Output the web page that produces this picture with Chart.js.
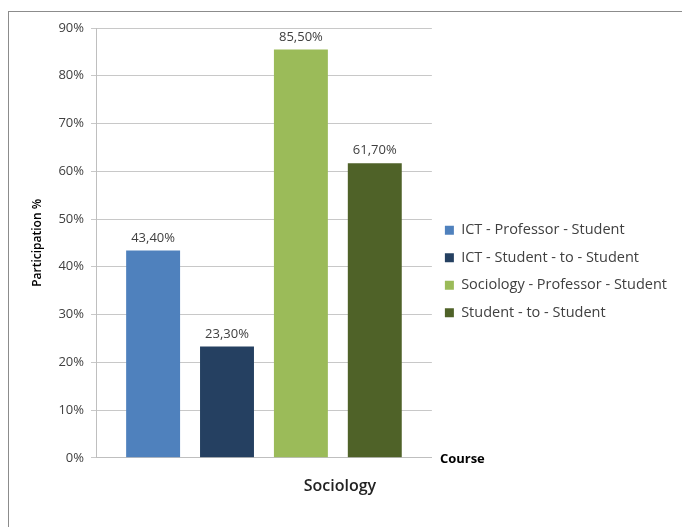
<!DOCTYPE html>
<html>
<head>
<meta charset="utf-8">
<script src="https://cdn.jsdelivr.net/npm/chart.js@4.4.1/dist/chart.umd.min.js"></script>
<style>
  html, body { margin: 0; padding: 0; background: #fff; }
  #wrap { position: relative; width: 682px; height: 527px; }
  #frame { position: absolute; left: 8px; top: 11px; width: 674px; height: 516px;
           border-top: 1px solid #8c8c8c; border-left: 1px solid #8c8c8c; box-sizing: border-box; pointer-events: none; }
  canvas { position: absolute; left: 0; top: 0; }
</style>
</head>
<body>
<div id="wrap">
  <canvas id="c" width="682" height="527"></canvas>
  <div id="frame"></div>
</div>
<script>
const categories = ['Sociology'];
const seriesNames = [
  'ICT - Professor - Student',
  'ICT - Student - to - Student',
  'Sociology - Professor - Student',
  'Student - to - Student'
];
const seriesValues = [43.4, 23.3, 85.5, 61.7];
const seriesColors = ['#4F81BD', '#254061', '#9BBB59', '#4F6228'];
const yTicks = [0, 10, 20, 30, 40, 50, 60, 70, 80, 90];

const FONT = "'Open Sans', 'DejaVu Sans', sans-serif";

function fmtPct(v) {
  return v.toFixed(2).replace('.', ',') + '%';
}

const labelPlugin = {
  id: 'valueLabels',
  afterDatasetsDraw(chart) {
    const ctx = chart.ctx;
    ctx.save();
    ctx.font = '13px ' + FONT;
    ctx.fillStyle = '#404040';
    ctx.textAlign = 'center';
    ctx.textBaseline = 'bottom';
    chart.data.datasets.forEach((ds, i) => {
      const meta = chart.getDatasetMeta(i);
      meta.data.forEach((el, j) => {
        ctx.fillText(fmtPct(ds.data[j]), el.x, el.y - 6);
      });
    });
    const ys = chart.scales.y;
    ctx.font = '700 13px ' + FONT;
    ctx.fillStyle = '#000';
    ctx.textAlign = 'left';
    ctx.textBaseline = 'middle';
    ctx.fillText('Course', chart.chartArea.right + 8, ys.getPixelForValue(0) + 1);
    ctx.restore();
  }
};

new Chart(document.getElementById('c'), {
  type: 'bar',
  data: {
    labels: categories,
    datasets: seriesNames.map((n, i) => ({
      label: n,
      data: [seriesValues[i]],
      backgroundColor: seriesColors[i],
      borderWidth: 0,
      categoryPercentage: 0.88,
      barPercentage: 0.73
    }))
  },
  options: {
    responsive: false,
    animation: false,
    layout: { padding: { left: 30, right: 5, top: 28, bottom: 12 } },
    plugins: {
      legend: {
        position: 'right',
        align: 'center',
        maxWidth: 280,
        labels: {
          boxWidth: 9,
          boxHeight: 9,
          padding: 13,
          color: '#404040',
          font: { family: FONT, size: 14.5 }
        }
      },
      tooltip: { enabled: false }
    },
    scales: {
      x: {
        grid: { display: false, drawTicks: false },
        border: { display: true, color: '#BFBFBF' },
        ticks: {
          padding: 19,
          labelOffset: 76,
          color: '#222',
          font: { family: FONT, size: 16, weight: '600' }
        }
      },
      y: {
        min: 0,
        max: 90,
        afterBuildTicks(scale) { scale.ticks = yTicks.map(v => ({ value: v })); },
        grid: { color: '#C8C8C8', tickLength: 5, drawTicks: true, tickColor: '#C8C8C8' },
        border: { display: true, color: '#BFBFBF' },
        ticks: {
          padding: 7,
          color: '#404040',
          font: { family: FONT, size: 13 },
          callback: v => v + '%'
        },
        title: {
          display: true,
          text: 'Participation %',
          color: '#000',
          padding: { top: 0, bottom: 7 },
          font: { family: FONT, size: 12, weight: '600' }
        }
      }
    }
  },
  plugins: [labelPlugin]
});
</script>
</body>
</html>
